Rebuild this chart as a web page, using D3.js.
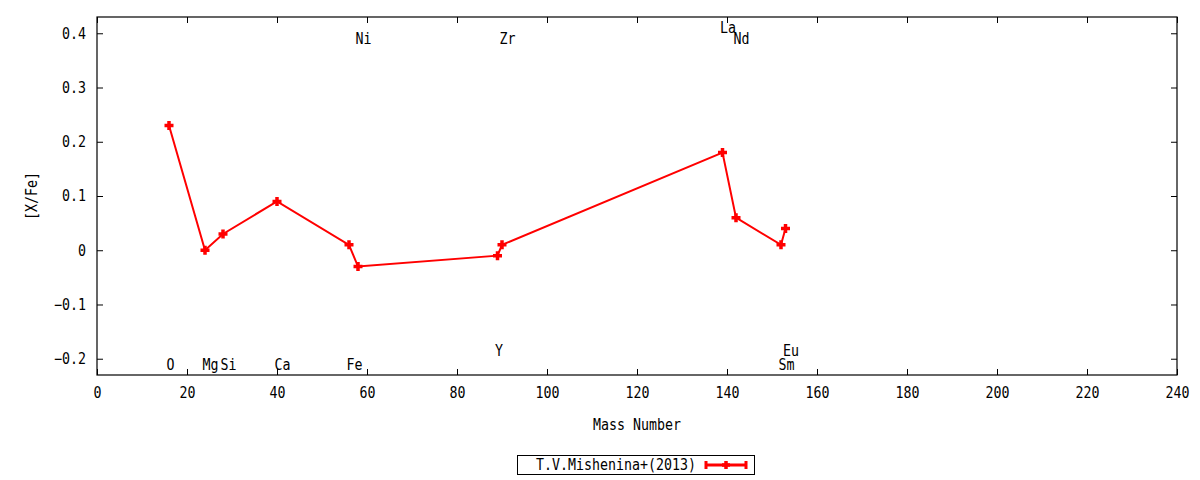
<!DOCTYPE html>
<html><head><meta charset="utf-8">
<script src="https://cdn.jsdelivr.net/npm/d3@7"></script>
<style>
body{margin:0;background:#fff;}
text{font-family:"DejaVu Sans Mono",monospace;font-size:15px;fill:#000;}
</style></head>
<body><svg id="c" width="1200" height="480"></svg>
<script>
// Data
const elements = ["O","Mg","Si","Ca","Fe","Ni","Y","Zr","La","Nd","Sm","Eu"];
const massNumbers = [16,24,28,40,56,58,89,90,139,142,152,153];
const xFeValues = [0.23,0.00,0.03,0.09,0.01,-0.03,-0.01,0.01,0.18,0.06,0.01,0.04];
const labelYValues = [-0.21,-0.21,-0.21,-0.21,-0.21,0.39,-0.185,0.39,0.41,0.39,-0.21,-0.185];
const xTicks = [0,20,40,60,80,100,120,140,160,180,200,220,240];
const yTicks = [-0.2,-0.1,0,0.1,0.2,0.3,0.4];
const seriesName = "T.V.Mishenina+(2013)";

const svg = d3.select("#c");
const L=97,R=1177,T=17,B=375;
const x = d3.scaleLinear().domain([0,240]).range([L,R]);
const y = d3.scaleLinear().domain([-0.23,0.43]).range([B,T]);
const CW = 8;
function fit(sel){ sel.attr("textLength", function(){return this.textContent.length*CW;}).attr("lengthAdjust","spacingAndGlyphs"); return sel; }
const fmtY = v => v===0 ? "0" : d3.format(".1f")(v);

// axes (ticks inward, mirrored)
const tk = 6;
const gB = svg.append("g").attr("transform",`translate(0,${B})`)
  .call(d3.axisBottom(x).tickValues(xTicks).tickSize(-tk).tickPadding(12).tickFormat(d3.format("d")));
const gT = svg.append("g").attr("transform",`translate(0,${T})`)
  .call(d3.axisTop(x).tickValues(xTicks).tickSize(-tk).tickFormat(""));
const gL = svg.append("g").attr("transform",`translate(${L},0)`)
  .call(d3.axisLeft(y).tickValues(yTicks).tickSize(-tk).tickPadding(11).tickFormat(fmtY));
const gR = svg.append("g").attr("transform",`translate(${R},0)`)
  .call(d3.axisRight(y).tickValues(yTicks).tickSize(-tk).tickFormat(""));
[gB,gT,gL,gR].forEach(g=>{
  g.select(".domain").remove();
  g.selectAll("line").attr("stroke","#000").attr("stroke-width",1);
  g.selectAll("text").attr("font-family",null).attr("font-size",null).attr("fill","#000");
  fit(g.selectAll("text"));
});
gB.selectAll("text").attr("dy","0.71em");
svg.append("rect").attr("x",L).attr("y",T).attr("width",R-L).attr("height",B-T)
  .attr("fill","none").attr("stroke","#000").attr("stroke-width",1.2);

// axis titles
fit(svg.append("text").attr("x",(L+R)/2).attr("y",430).attr("text-anchor","middle").text("Mass Number"));
fit(svg.append("text").attr("transform",`translate(37,${(T+B)/2}) rotate(-90)`).attr("text-anchor","middle").text("[X/Fe]"));

// element labels
const data = elements.map((e,i)=>({e,m:massNumbers[i],v:xFeValues[i],ly:labelYValues[i]}));
fit(svg.append("g").selectAll("text").data(data).join("text")
  .attr("x",d=>x(d.m)-2.5).attr("y",d=>y(d.ly)).attr("dy","0.36em")
  .attr("text-anchor","start").text(d=>d.e));

// line and markers
const red="#ff0000";
svg.append("path").datum(data)
  .attr("d",d3.line().x(d=>x(d.m)).y(d=>y(d.v)))
  .attr("fill","none").attr("stroke",red).attr("stroke-width",2);
const plus = (cx,cy,s)=>`M${cx-s},${cy}H${cx+s}M${cx},${cy-s}V${cy+s}`;
svg.append("g").selectAll("path").data(data).join("path")
  .attr("d",d=>plus(x(d.m),y(d.v),4.5))
  .attr("stroke",red).attr("stroke-width",3.5).attr("fill","none");

// legend
svg.append("rect").attr("x",517.5).attr("y",455.5).attr("width",237).attr("height",19)
  .attr("fill","none").attr("stroke","#000").attr("stroke-width",1);
fit(svg.append("text").attr("x",696).attr("y",465).attr("dy","0.36em").attr("text-anchor","end").text(seriesName));
const ly=465;
svg.append("path").attr("d",`M705,${ly}H747M706,${ly-4}V${ly+4}M746,${ly-4}V${ly+4}`)
  .attr("stroke",red).attr("stroke-width",3).attr("fill","none");
svg.append("path").attr("d",plus(726,ly,4)).attr("stroke",red).attr("stroke-width",3.5).attr("fill","none");
</script></body></html>
